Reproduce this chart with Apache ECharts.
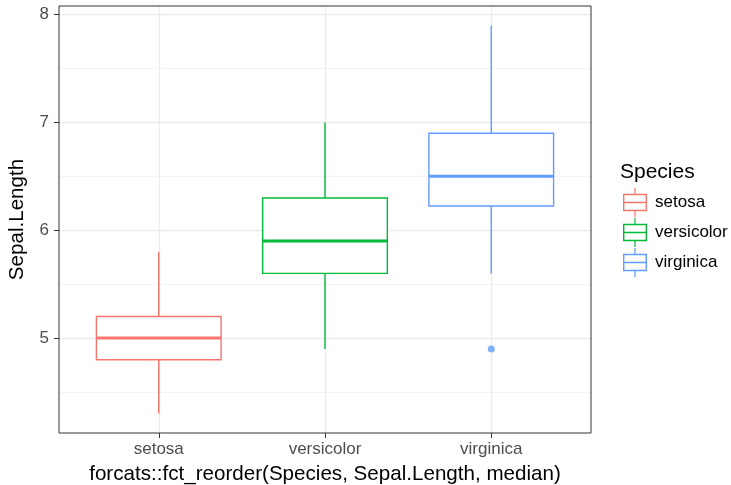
<!DOCTYPE html>
<html>
<head>
<meta charset="utf-8">
<script src="https://cdn.jsdelivr.net/npm/echarts@6/dist/echarts.min.js"></script>
<style>
  html, body { margin: 0; padding: 0; background: #fff; }
  #chart { width: 731px; height: 485px; }
</style>
</head>
<body>
<div id="chart"></div>
<script>
// 数据
const species = ['setosa', 'versicolor', 'virginica'];
const colors = ['#F8766D', '#00BA38', '#619CFF'];
// [x, 下须, Q1, 中位数, Q3, 上须]
const setosaBox = [1, 4.3, 4.8, 5.0, 5.2, 5.8];
const versicolorBox = [2, 4.9, 5.6, 5.9, 6.3, 7.0];
const virginicaBox = [3, 5.6, 6.225, 6.5, 6.9, 7.9];
const outliers = [[3, 4.9]];
const yTicks = [5, 6, 7, 8];
const yMinorTicks = [4.5, 5.5, 6.5, 7.5];
const xTicks = [1, 2, 3];

const BOX_WIDTH = 0.75;
const FONT = '"Liberation Sans", Arial, sans-serif';

// 箱线图绘制
function renderBox(params, api) {
    const x = api.value(0);
    const lo = api.coord([x, api.value(1)]);
    const q1 = api.coord([x, api.value(2)]);
    const md = api.coord([x, api.value(3)]);
    const q3 = api.coord([x, api.value(4)]);
    const hi = api.coord([x, api.value(5)]);
    const half = api.size([BOX_WIDTH, 0])[0] / 2;
    const color = api.visual('color');
    const cx = lo[0];
    const lw = 1.4;
    return {
        type: 'group',
        children: [
            { type: 'line', shape: { x1: cx, y1: lo[1], x2: cx, y2: q1[1] }, style: { stroke: color, lineWidth: lw } },
            { type: 'line', shape: { x1: cx, y1: q3[1], x2: cx, y2: hi[1] }, style: { stroke: color, lineWidth: lw } },
            { type: 'rect', shape: { x: cx - half, y: q3[1], width: half * 2, height: q1[1] - q3[1] }, style: { fill: '#fff', stroke: color, lineWidth: lw } },
            { type: 'line', shape: { x1: cx - half, y1: md[1], x2: cx + half, y2: md[1] }, style: { stroke: color, lineWidth: 3 } }
        ]
    };
}

// 图例图标 (箱线图样式, 24x29)
const boxIcon = 'path://M11.4,0 L12.6,0 L12.6,5.8 L24,5.8 L24,23.2 L12.6,23.2 L12.6,29 L11.4,29 L11.4,23.2 L0,23.2 L0,5.8 L11.4,5.8 Z ' +
    'M1.4,7.2 L1.4,13.8 L22.6,13.8 L22.6,7.2 Z M1.4,15.2 L1.4,21.8 L22.6,21.8 L22.6,15.2 Z';

const boxData = [setosaBox, versicolorBox, virginicaBox];

const chart = echarts.init(document.getElementById('chart'));

const series = [
    {
        name: 'grid',
        type: 'line',
        data: [],
        z: 0,
        silent: true,
        markLine: {
            silent: true,
            z: 1,
            symbol: ['none', 'none'],
            label: { show: false },
            emphasis: { disabled: true },
            animation: false,
            data: [
                ...yMinorTicks.map(v => ({ yAxis: v, lineStyle: { color: '#f0f0f0', width: 0.8, type: 'solid' } })),
                ...yTicks.map(v => ({ yAxis: v, lineStyle: { color: '#ebebeb', width: 1.3, type: 'solid' } })),
                ...xTicks.map(v => ({ xAxis: v, lineStyle: { color: '#ebebeb', width: 1.3, type: 'solid' } }))
            ]
        }
    }
];

species.forEach((name, i) => {
    series.push({
        name: name,
        type: 'custom',
        renderItem: renderBox,
        itemStyle: { color: colors[i] },
        encode: { x: 0, y: [1, 2, 3, 4, 5] },
        data: [boxData[i]],
        z: 3
    });
});

series.push({
    name: 'outlier',
    type: 'scatter',
    data: outliers,
    symbolSize: 7,
    itemStyle: { color: colors[2] },
    z: 4
});

const option = {
    animation: false,
    textStyle: { fontFamily: FONT },
    grid: {
        left: 59,
        right: 140,
        top: 6,
        bottom: 52,
        outerBoundsMode: 'none',
        containLabel: false,
        show: true,
        borderColor: '#333',
        borderWidth: 1,
        backgroundColor: 'transparent',
        z: 5
    },
    xAxis: {
        type: 'value',
        min: 0.4,
        max: 3.6,
        name: 'forcats::fct_reorder(Species, Sepal.Length, median)',
        nameLocation: 'middle',
        nameGap: 31,
        nameTextStyle: { fontSize: 20.6, color: '#000', fontFamily: FONT },
        axisLine: { show: false },
        axisTick: { show: true, length: 5, lineStyle: { color: '#333' }, customValues: xTicks },
        axisLabel: {
            customValues: xTicks,
            margin: 8,
            fontSize: 17,
            color: '#4d4d4d',
            fontFamily: FONT,
            formatter: v => species[Math.round(v) - 1] || ''
        },
        splitLine: { show: false }
    },
    yAxis: {
        type: 'value',
        min: 4.12,
        max: 8.08,
        name: 'Sepal.Length',
        nameLocation: 'middle',
        nameGap: 31,
        nameRotate: 90,
        nameTextStyle: { fontSize: 20.6, color: '#000', fontFamily: FONT },
        axisLine: { show: false },
        axisTick: { show: true, length: 5, lineStyle: { color: '#333' }, customValues: yTicks },
        axisLabel: {
            customValues: yTicks,
            margin: 10,
            fontSize: 17,
            color: '#4d4d4d',
            fontFamily: FONT
        },
        splitLine: { show: false }
    },
    legend: {
        orient: 'vertical',
        left: 623,
        top: 188,
        padding: 0,
        itemWidth: 24,
        itemHeight: 29,
        itemGap: 1,
        symbolKeepAspect: false,
        textStyle: { fontSize: 17, color: '#000', fontFamily: FONT, padding: [0, 0, 0, 3] },
        itemStyle: { borderWidth: 0 },
        data: species.map(name => ({ name: name, icon: boxIcon }))
    },
    graphic: [
        {
            type: 'text',
            left: 620,
            top: 162,
            style: { text: 'Species', fontSize: 21, fill: '#000', fontFamily: FONT }
        }
    ],
    series: series
};

chart.setOption(option);
</script>
</body>
</html>
